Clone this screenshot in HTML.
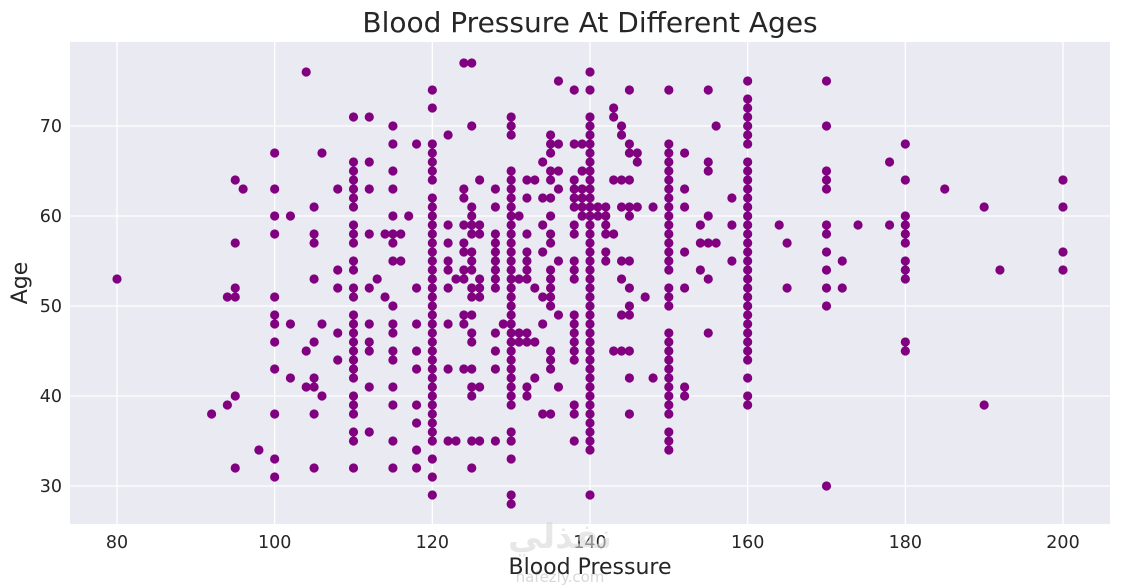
<!DOCTYPE html>
<html><head><meta charset="utf-8"><style>
body{margin:0;background:#fff;}
svg{display:block;font-family:"DejaVu Sans","Liberation Sans",sans-serif;}
</style></head><body>
<svg id="chart" width="1122" height="588" viewBox="0 0 1122 588">
<text x="590" y="32" text-anchor="middle" font-size="28" fill="#262626">Blood Pressure At Different Ages</text>
<rect x="70" y="42" width="1040" height="482" fill="#eaeaf2"/>
<g id="grid"></g>
<g id="xticks"></g>
<g id="yticks"></g>
<g id="points"></g>
<text x="560" y="548" text-anchor="middle" font-size="34" font-weight="bold" fill="#d8d8d8" opacity="0.6">نفذلي</text>
<text x="560" y="582" text-anchor="middle" font-size="15" fill="#d8d8d8">nafezly.com</text>
<text x="590" y="574" text-anchor="middle" font-size="22" fill="#262626">Blood Pressure</text>
<text x="0" y="0" transform="translate(27,283) rotate(-90)" text-anchor="middle" font-size="22" fill="#262626">Age</text>
</svg>
<script>
const xTicks = [80,100,120,140,160,180,200];
const yTicks = [30,40,50,60,70];
const bpValues = [80,92,94,95,96,98,100,102,104,105,106,108,110,112,113,114,115,116,117,118,120,122,123,124,125,126,128,129,130,131,132,133,134,135,136,138,139,140,141,142,143,144,145,146,147,148,150,152,154,155,156,158,160,164,165,170,172,174,178,180,185,190,192,200];
const ageGroups = [
[53],[38],[39,51],[64,57,52,51,40,32],[63],[34],
[67,63,60,58,51,49,48,46,43,38,33,31],
[60,48,42],[76,45,41],[61,58,57,53,46,42,41,38,32],[67,48,40],[63,54,52,47,44],
[71,66,65,64,63,62,61,59,58,57,55,54,52,51,49,48,47,46,45,44,43,42,40,39,38,36,35,32],
[71,66,63,58,52,48,46,45,41,36],[53],[58,51],
[70,68,65,63,60,58,57,55,50,48,47,45,44,41,39,35,32],[58,55],[60],
[68,52,48,45,43,39,37,34,32],
[74,72,68,67,66,65,64,62,61,60,59,58,57,56,55,54,53,52,51,50,49,48,47,46,45,44,43,42,41,40,39,38,37,36,35,33,31,29],
[69,59,57,55,54,52,48,43,35],[53,35],[77,63,62,59,57,56,54,53,49,48,43],
[77,70,61,60,59,58,56,55,54,52,51,49,47,46,43,41,40,35,32],
[64,59,58,53,52,51,41,35],
[63,61,58,57,56,55,54,53,52,47,45,43,35],[48],
[71,70,69,65,64,63,62,61,60,59,58,57,56,55,54,53,52,51,50,49,48,47,46,45,44,43,42,41,40,39,36,35,33,29,28],
[60,53,47,46],[64,62,58,56,55,54,53,47,46,41,40],[64,52,46,42],
[66,62,59,56,51,48,38],[69,68,67,65,64,62,60,58,57,54,53,52,51,50,45,44,43,38],
[75,68,65,63,55,49,41],
[74,68,64,63,62,61,59,58,55,54,53,49,48,47,46,45,44,39,38,35],[68,65,63,62,61,60],
[76,74,71,70,69,68,67,66,65,64,63,62,61,60,59,58,57,56,55,54,53,52,51,50,49,48,47,46,45,44,43,42,41,40,39,38,37,36,35,34,29],
[61,60],[61,60,59,58,56,55],[72,71,64,58,45],[70,69,64,61,55,53,49,45],
[74,68,67,64,61,60,55,52,50,49,45,42,38],[67,66,61],[51],[61,42],
[74,68,67,66,65,64,63,62,61,60,59,58,57,56,55,54,52,51,50,47,46,45,44,43,42,41,40,39,38,36,35,34],
[67,63,61,56,52,41,40],[59,57,54],[74,66,65,60,57,53,47],[70,57],[62,59,55],
[75,73,72,71,70,69,68,66,65,64,63,62,61,60,59,58,57,56,55,54,53,52,51,50,49,48,47,46,45,44,42,40,39],
[59],[57,52],[75,70,65,64,63,59,58,56,54,52,50,30],[55,52],[59],[66,59],
[68,64,60,59,58,57,55,54,53,46,45],[63],[61,39],[54],[64,61,56,54]
];
const NS='http://www.w3.org/2000/svg';
const X0=70,X1=1110,Y0=42,Y1=524;
const xScale=v=>117+(v-80)*(1063-117)/120;
const yScale=v=>486-(v-30)*9;
function mk(tag,attrs,parent){const e=document.createElementNS(NS,tag);for(const k in attrs)e.setAttribute(k,attrs[k]);parent.appendChild(e);return e;}
const grid=document.getElementById('grid'),xt=document.getElementById('xticks'),yt=document.getElementById('yticks'),pts=document.getElementById('points');
xTicks.forEach(t=>{
  const l=mk('line',{x1:xScale(t),x2:xScale(t),y1:Y0,y2:Y1,stroke:'#fff','stroke-width':1.3},grid);
  
  
  const tx=mk('text',{x:xScale(t),y:548,'text-anchor':'middle','font-size':17.5,fill:'#262626'},xt);
  tx.textContent=t;
  
  
});
yTicks.forEach(t=>{
  const l=mk('line',{x1:X0,x2:X1,y1:yScale(t),y2:yScale(t),stroke:'#fff','stroke-width':1.3},grid);
  
  
  const tx=mk('text',{x:62,y:yScale(t)+6,'text-anchor':'end','font-size':17.5,fill:'#262626'},yt);
  tx.textContent=t;
  
  
});
bpValues.forEach((bp,i)=>{
  ageGroups[i].forEach(a=>{
    const c=mk('circle',{cx:xScale(bp),cy:yScale(a),r:4.6,fill:'#800080'},pts);
    
    
  });
});
</script>
</body></html>
